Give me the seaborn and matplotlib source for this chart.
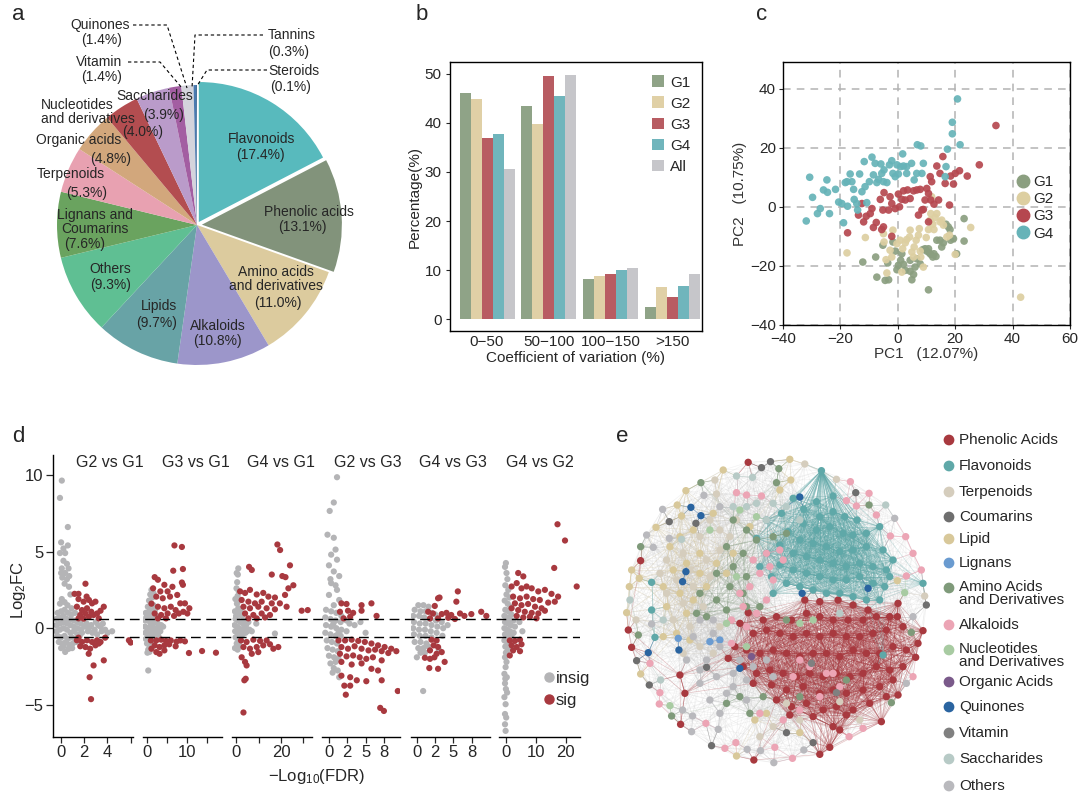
import numpy as np
import pandas as pd
import matplotlib
matplotlib.use('Agg')
import matplotlib.pyplot as plt
from matplotlib.collections import LineCollection
from matplotlib.lines import Line2D
from matplotlib.colors import to_rgba
import seaborn as sns

sns.set_style('white')
plt.rcParams['font.family'] = ['Liberation Sans', 'DejaVu Sans']
plt.rcParams['mathtext.default'] = 'regular'
plt.rcParams['axes.unicode_minus'] = True

# ---------------- DATA ----------------
# a: composition pie
pie_names = ['Flavonoids', 'Phenolic acids', 'Amino acids\nand derivatives', 'Alkaloids', 'Lipids',
             'Others', 'Lignans and\nCoumarins', 'Terpenoids', 'Organic acids',
             'Nucleotides\nand derivatives', 'Saccharides', 'Vitamin', 'Quinones', 'Tannins', 'Steroids']
pie_values = [17.4, 13.1, 11.0, 10.8, 9.7, 9.3, 7.6, 5.3, 4.8, 4.0, 3.9, 1.4, 1.4, 0.3, 0.1]
pie_colors = ['#58babd', '#82937b', '#dccb9e', '#9c96ca', '#68a3a6', '#5fbf93', '#6aa35f', '#e8a1b1',
              '#d2a77c', '#b34d50', '#ba9bca', '#a35ea2', '#d4d4dc', '#4a7ab0', '#2e5a8a']

# b: coefficient of variation
cv_bins = ['0\u221250', '50\u2212100', '100\u2212150', '>150']
cv_groups = ['G1', 'G2', 'G3', 'G4', 'All']
cv_G1 = [46.0, 43.4, 8.2, 2.5]
cv_G2 = [44.8, 39.8, 8.8, 6.6]
cv_G3 = [37.0, 49.5, 9.3, 4.5]
cv_G4 = [37.8, 45.5, 10.0, 6.8]
cv_All = [30.6, 49.8, 10.4, 9.2]
cv_colors = ['#8fa387', '#e0d0a6', '#b85c62', '#70b5bc', '#c6c6ca']

# c: PCA scores
pca_G1 = [(-12.2, -18.7), (-7.7, -17.0), (-7.3, -23.8), (-5.2, -13.0), (-4.4, -24.9), (-3.5, -19.0),
          (-3.2, -24.7), (-1.7, -11.9), (-0.9, -15.0), (-0.3, -21.3), (0.2, -19.8), (1.0, -18.1),
          (1.4, -15.9), (2.0, -19.5), (4.3, -21.8), (4.9, -24.7), (5.5, -22.9), (6.0, -20.4),
          (6.6, -17.6), (7.8, -19.3), (8.7, -14.5), (9.5, -14.2), (10.1, -15.0), (10.7, -28.1),
          (11.0, -15.6), (11.5, -16.1), (12.2, -17.0), (12.6, -15.9), (13.3, -16.8), (13.6, -11.3),
          (14.7, -11.3), (15.3, -13.6), (15.9, -12.2), (16.8, -5.9), (17.6, -6.8), (18.2, -7.7),
          (18.4, -11.3), (19.4, -10.8), (20.5, -15.9), (23.1, -4.0), (23.1, -11.6), (10.7, -14.2),
          (2.6, -21.5), (4.3, -18.1)]
pca_G2 = [(-17.7, -15.6), (-11.3, -10.4), (-5.0, -9.1), (-4.8, -11.9), (-2.7, -14.7), (-2.1, -17.0),
          (-1.7, -7.9), (0.8, -11.3), (1.7, -14.2), (1.4, -22.1), (2.6, -12.2), (3.1, -11.1),
          (4.1, -10.2), (4.3, -7.9), (4.9, -15.3), (5.7, -13.6), (6.4, -11.3), (7.2, -9.6),
          (7.5, -7.4), (7.8, -15.0), (8.0, -17.0), (8.9, -20.4), (9.9, -10.4), (10.7, -7.7),
          (11.3, -4.5), (11.5, -2.3), (12.2, -5.9), (12.6, -7.7), (13.0, -3.6), (13.6, -2.3),
          (14.7, -5.1), (15.3, -4.5), (15.9, -6.2), (17.1, -10.2), (18.0, -9.6), (20.0, -16.1),
          (25.4, -7.0), (42.8, -30.6), (-3.8, -22.4), (-4.1, -17.9), (11.8, 3.4), (5.5, -17.0),
          (-0.3, -12.5)]
pca_G3 = [(-17.5, -8.8), (-13.7, -2.8), (-11.9, -5.1), (-11.0, -3.2), (-9.6, -2.3), (-9.0, -0.6),
          (-8.5, -7.0), (-7.5, -5.3), (-6.1, 2.5), (-5.6, -7.7), (-5.2, -1.1), (-5.0, -6.8),
          (-4.8, 4.8), (-3.2, -1.1), (-2.1, -10.0), (-2.1, 1.1), (-0.9, -0.6), (0.2, 4.3),
          (0.6, 0.0), (1.4, 2.5), (2.0, 5.4), (2.6, 2.3), (3.4, 5.7), (4.3, 2.8), (5.5, 5.4),
          (6.6, 5.7), (7.8, 5.9), (8.4, -1.1), (8.9, -0.9), (9.5, 2.3), (10.1, 6.2), (10.7, 4.5),
          (11.3, 10.2), (11.5, 2.3), (11.8, 8.5), (12.6, 0.9), (13.6, 13.8), (14.2, 2.3),
          (14.7, 11.3), (15.7, 17.0), (16.5, 7.9), (18.0, 0.6), (18.4, 10.4), (19.4, 7.7),
          (20.0, 11.3), (21.5, 12.2), (24.2, 10.4), (28.4, 14.2), (34.2, 27.5), (10.7, -5.1),
          (7.2, -2.8), (-12.5, 1.1), (-2.7, 3.4)]
pca_G4 = [(-30.7, 10.0), (-29.7, 3.2), (-31.9, -4.8), (-28.0, -2.3), (-27.0, -0.6), (-24.7, 9.1),
          (-24.5, 4.9), (-21.7, 5.9), (-23.8, -2.3), (-20.6, 1.6), (-18.9, -5.4), (-18.3, 8.2),
          (-17.5, 0.2), (-16.6, 11.1), (-16.0, 8.5), (-15.4, 5.9), (-15.2, 2.5), (-14.3, 1.1),
          (-14.0, -1.1), (-13.3, 11.1), (-11.7, 15.3), (-11.4, 6.8), (-10.8, 1.4), (-9.9, 8.5),
          (-9.0, 16.8), (-8.5, 10.8), (-7.9, 14.7), (-7.3, 8.2), (-6.7, 9.3), (-5.9, 14.5),
          (-5.6, 11.3), (-5.0, 8.5), (-4.8, 12.5), (-3.8, 8.2), (-2.9, 14.2), (-2.1, 15.6),
          (-1.7, 11.3), (-0.3, 14.2), (0.2, 11.1), (1.0, 13.6), (1.7, 17.9), (2.0, 13.8),
          (3.1, 13.6), (4.8, 14.7), (5.7, 9.1), (6.8, 21.0), (8.0, 20.6), (8.4, 11.3), (8.9, 14.7),
          (16.5, 10.2), (16.8, 13.6), (17.3, 19.5), (19.0, 24.7), (19.0, 28.6), (20.8, 36.5),
          (21.7, 21.0), (6.6, 11.3), (-17.7, 8.5), (-19.5, 1.1), (-25.9, 5.7), (-12.5, 5.1),
          (-0.9, 10.2), (3.1, 11.3)]
pca_colors = ['#8b9f80', '#ddcfa1', '#b5474f', '#66b3b8']

# d: volcano panels (-log10 FDR, log2FC)
volc_titles = ['G2 vs G1', 'G3 vs G1', 'G4 vs G1', 'G2 vs G3', 'G4 vs G3', 'G4 vs G2']
insig_1 = [(0.06, 9.63), (-0.1, 8.5), (0.58, 6.6), (0.0, 5.6), (0.2, 5.2), (0.58, 5.4), (-0.1, 4.9),
           (0.35, 4.9), (0.2, 4.4), (0.5, 4.2), (0.64, 3.9), (0.06, 3.9), (0.0, 3.6), (0.35, 3.6),
           (0.7, 3.4), (0.1, 3.3), (0.5, 3.2), (0.3, 2.9), (0.68, 2.7), (0.8, 2.2), (0.06, 1.9),
           (-0.1, 1.6), (0.3, 1.7), (0.55, 1.5), (0.9, 1.3), (-0.3, 1.0), (0.0, 1.1), (0.3, 1.2),
           (0.6, 1.0), (0.9, 0.9), (1.2, 1.0), (-0.4, 0.6), (-0.1, 0.7), (0.2, 0.8), (0.5, 0.6),
           (0.8, 0.6), (1.1, 0.5), (1.4, 0.4), (1.7, 0.3), (-0.4, 0.2), (-0.1, 0.3), (0.2, 0.4),
           (0.5, 0.3), (0.8, 0.2), (1.1, 0.1), (1.4, 0.0), (1.7, -0.1), (2.0, 0.1), (2.3, -0.2),
           (2.6, 0.2), (2.9, -0.1), (3.2, 0.2), (3.5, -0.2), (-0.4, -0.2), (-0.1, -0.1), (0.2, 0.0),
           (0.5, -0.1), (0.8, -0.3), (1.1, -0.2), (1.4, -0.4), (1.8, -0.3), (2.2, 0.3), (2.7, -0.3),
           (3.0, 0.4), (3.4, 0.1), (3.8, -0.1), (4.0, -0.3), (4.4, -0.2), (-0.3, -0.5), (0.0, -0.6),
           (0.3, -0.5), (0.6, -0.7), (0.9, -0.6), (1.2, -0.7), (-0.2, -0.9), (0.1, -1.0), (0.4, -0.9),
           (0.7, -1.1), (1.0, -1.0), (0.0, -1.3), (0.35, -1.55), (0.64, -1.35), (0.95, -1.3),
           (0.2, -1.2), (1.3, -0.9), (1.6, -0.5), (2.4, 0.0), (3.1, -0.4), (3.6, 0.3)]
sig_1 = [(2.1, 2.9), (1.16, 2.24), (1.5, 2.24), (2.2, 2.06), (1.5, 1.9), (1.94, 1.73), (2.4, 1.84),
         (2.67, 1.62), (2.96, 1.73), (3.68, 1.4), (1.36, 1.4), (1.8, 1.18), (2.23, 1.3), (2.6, 1.07),
         (3.1, 0.96), (3.4, 1.14), (1.65, 0.86), (2.1, 0.96), (2.8, 0.86), (2.4, 0.75), (1.5, 0.64),
         (3.25, 0.64), (1.94, 0.62), (1.36, -0.79), (1.8, -0.9), (2.23, -0.79), (2.67, -0.9),
         (3.1, -0.79), (3.4, -0.9), (1.65, -1.18), (2.1, -1.23), (2.5, -1.34), (2.96, -1.12),
         (3.25, -1.0), (2.38, -1.67), (2.8, -2.43), (3.68, -2.1), (2.46, -3.2), (2.58, -4.63),
         (5.85, -0.79), (6.0, -0.94), (1.5, -0.62), (3.8, -0.62)]
insig_2 = [(0.3, -2.76), (1.1, 2.5), (1.6, 2.3), (0.8, 2.2), (1.3, 2.0), (0.5, 1.8), (1.0, 1.6),
           (1.6, 1.5), (0.2, 1.4), (0.7, 1.2), (1.3, 1.1), (2.0, 1.2), (-0.3, 1.0), (0.3, 0.9),
           (0.9, 0.8), (1.5, 0.7), (2.2, 0.8), (-0.4, 0.5), (0.2, 0.5), (0.8, 0.4), (1.4, 0.3),
           (2.0, 0.4), (2.7, 0.3), (3.5, 0.2), (-0.5, 0.1), (0.1, 0.0), (0.7, 0.1), (1.3, -0.1),
           (1.9, 0.0), (2.6, -0.1), (3.3, -0.2), (4.0, 0.1), (-0.4, -0.3), (0.2, -0.3), (0.8, -0.4),
           (1.4, -0.3), (2.1, -0.4), (2.8, -0.5), (-0.3, -0.7), (0.3, -0.7), (0.9, -0.8), (1.5, -0.6),
           (0.0, -1.0), (0.6, -1.1), (1.2, -1.0), (0.3, -1.4), (0.9, -1.3), (0.1, -1.6), (0.6, -1.55),
           (1.8, -0.2), (2.4, 0.5), (3.0, 0.0), (-0.2, 0.7), (0.5, -0.5), (1.1, 0.2)]
sig_2 = [(6.8, 5.4), (8.65, 5.3), (6.5, 3.75), (8.9, 3.86), (1.9, 3.33), (2.7, 3.16), (4.3, 2.83),
         (6.3, 2.7), (8.65, 2.98), (8.9, 2.83), (1.5, 2.6), (3.3, 2.4), (5.1, 2.4), (2.3, 2.06),
         (3.9, 1.95), (5.7, 2.06), (7.5, 2.17), (8.25, 1.62), (9.4, 1.62), (10.5, 1.3), (10.0, 0.96),
         (1.1, 1.6), (2.7, 1.4), (4.3, 1.3), (5.9, 1.4), (7.1, 1.18), (1.9, 0.96), (3.5, 0.86),
         (5.1, 0.96), (6.7, 0.8), (7.9, 0.96), (2.7, 0.64), (4.7, 0.64), (9.0, 1.07),
         (0.95, -0.8), (2.3, -0.8), (3.5, -0.75), (4.7, -0.83), (5.9, -0.8), (7.3, -0.88),
         (8.25, -0.8), (9.4, -0.86), (1.9, -1.12), (3.1, -1.23), (4.3, -1.12), (5.5, -1.05),
         (7.1, -1.18), (2.3, -1.56), (3.1, -1.67), (4.3, -1.45), (10.4, -1.62), (13.65, -1.49),
         (17.1, -1.6), (1.1, -1.34)]
insig_3 = [(1.0, 3.9), (0.3, 3.6), (0.8, 3.5), (0.5, 3.0), (0.2, 2.6), (1.2, 2.4), (0.7, 2.1),
           (-0.3, 1.9), (1.5, 1.8), (0.4, 1.6), (1.0, 1.3), (2.0, 1.2), (-0.5, 1.1), (0.6, 1.0),
           (1.6, 0.9), (2.6, 0.8), (-0.2, 0.6), (0.9, 0.5), (2.0, 0.4), (3.2, 0.3), (4.5, 0.2),
           (-0.6, 0.2), (0.4, 0.1), (1.4, 0.0), (2.5, -0.1), (3.8, 0.0), (5.0, -0.2), (-0.4, -0.2),
           (0.6, -0.3), (1.7, -0.3), (2.9, -0.4), (4.2, -0.3), (6.0, -0.1), (-0.2, -0.6), (0.9, -0.7),
           (2.0, -0.6), (0.3, -1.0), (1.3, -1.1), (-0.5, -1.3), (0.7, -1.4), (1.9, -1.2),
           (17.3, -0.35), (9.0, 0.3), (7.0, -0.2), (0.0, 0.8), (1.1, -0.9), (3.5, 0.5), (5.5, 0.4)]
sig_3 = [(18.4, 5.46), (19.6, 5.1), (24.0, 4.1), (5.8, 4.0), (7.0, 3.8), (15.9, 3.5), (20.6, 3.4),
         (22.0, 3.33), (25.5, 2.8), (23.3, 2.6), (1.8, 2.4), (4.0, 2.3), (6.2, 2.5), (9.2, 2.2),
         (12.1, 2.3), (14.4, 2.06), (17.3, 2.0), (21.8, 2.17), (2.5, 1.84), (5.5, 1.73), (8.4, 1.62),
         (11.4, 1.73), (15.9, 1.62), (19.5, 1.62), (3.3, 1.4), (6.2, 1.3), (9.9, 1.4), (13.6, 1.3),
         (17.3, 1.23), (22.5, 1.4), (29.2, 1.14), (31.9, 1.18), (4.0, 0.96), (7.7, 0.86),
         (11.4, 0.96), (15.1, 0.86), (5.5, 0.64), (9.2, 0.64), (12.9, 0.7),
         (2.2, -0.8), (4.7, -0.9), (7.7, -0.75), (10.7, -0.83), (13.6, -0.8), (3.3, -1.23),
         (6.2, -1.34), (9.2, -1.23), (12.1, -1.12), (15.1, -1.05), (18.8, -1.23), (16.6, -1.34),
         (2.5, -1.9), (4.0, -2.2), (4.7, -2.43), (4.3, -3.3), (3.7, -3.4), (3.3, -5.5), (7.0, -1.67),
         (9.9, -1.56)]
insig_4 = [(1.1, 9.85), (0.66, 8.2), (0.1, 7.65), (-0.2, 6.1), (0.66, 5.9), (0.9, 5.13), (0.3, 4.8),
           (1.1, 4.47), (0.0, 4.1), (0.66, 3.7), (1.4, 3.4), (0.3, 2.94), (1.1, 2.5), (0.0, 2.17),
           (1.4, 1.84), (0.66, 1.5), (0.2, 3.2), (0.9, 2.8), (-0.4, 1.2), (0.3, 1.1), (1.0, 1.0),
           (1.7, 0.8), (2.4, 0.5), (-0.5, 0.7), (0.2, 0.6), (0.9, 0.5), (1.6, 0.4), (2.8, 0.3),
           (3.5, 0.2), (-0.4, 0.2), (0.3, 0.1), (1.0, 0.0), (1.7, -0.1), (2.4, -0.2), (-0.5, -0.3),
           (0.2, -0.4), (0.9, -0.5), (1.6, -0.5), (-0.3, -0.8), (0.4, -0.9), (1.1, -1.0), (-0.2, -1.3),
           (0.5, -1.4), (1.2, -1.5), (0.0, -1.8), (0.7, -1.9), (1.3, -2.0), (0.2, -2.3), (0.9, -2.2),
           (0.66, -2.6), (1.2, -2.76), (1.4, -3.2), (0.5, -2.9), (4.3, 0.4), (5.0, -0.3), (0.6, 0.3),
           (1.3, -0.3)]
sig_4 = [(1.7, 1.62), (2.4, 1.58), (4.45, 1.5), (5.8, 1.62), (6.5, 0.8), (1.5, 1.07), (2.6, 1.14),
         (3.3, 1.0), (4.45, 1.14), (2.0, 0.64), (2.9, 0.75),
         (1.3, -0.8), (2.2, -0.8), (3.1, -0.75), (4.0, -0.83), (4.9, -0.9), (5.8, -1.0), (6.7, -1.12),
         (7.6, -1.23), (8.5, -1.34), (9.2, -1.5), (1.7, -1.23), (2.6, -1.34), (3.5, -1.18),
         (4.45, -1.34), (5.4, -1.45), (6.3, -1.4), (7.2, -1.5), (8.1, -1.62), (1.5, -1.67),
         (2.4, -1.84), (3.3, -1.78), (4.2, -1.9), (5.1, -2.0), (6.0, -1.9), (7.2, -2.1), (1.7, -2.2),
         (3.1, -2.37), (4.45, -2.3), (5.8, -2.65), (6.7, -2.76), (1.7, -3.1), (2.9, -3.2),
         (3.8, -3.4), (5.1, -3.46), (2.1, -3.75), (2.9, -3.75), (2.3, -4.34), (7.2, -3.4),
         (9.4, -4.1), (7.0, -5.2), (7.5, -5.4)]
insig_5 = [(0.86, -4.1), (0.0, -1.9), (0.5, -1.6), (0.2, 1.5), (0.9, 1.5), (1.6, 1.4), (-0.3, 1.2),
           (0.5, 1.1), (1.2, 1.1), (2.0, 1.0), (-0.5, 0.8), (0.3, 0.8), (1.0, 0.7), (1.8, 0.6),
           (2.6, 0.5), (3.4, 0.4), (-0.4, 0.4), (0.4, 0.3), (1.2, 0.3), (2.0, 0.2), (2.8, 0.1),
           (3.6, 0.0), (-0.5, 0.0), (0.3, -0.1), (1.1, -0.1), (1.9, -0.2), (2.7, -0.3), (3.5, -0.5),
           (-0.4, -0.4), (0.4, -0.5), (1.2, -0.5), (2.0, -0.6), (-0.3, -0.9), (0.5, -0.9), (1.3, -1.0),
           (0.2, -1.3), (0.9, -1.3), (1.6, -1.2), (1.1, -1.6), (3.0, -1.4), (2.5, 0.9), (4.2, 0.2)]
sig_5 = [(2.9, 1.95), (3.1, 2.0), (5.6, 2.4), (5.4, 1.73), (2.45, 1.45), (1.55, 1.07), (2.2, 0.96),
         (3.4, 0.92), (4.05, 1.0), (4.7, 0.86), (5.9, 0.96), (6.5, 0.8), (7.45, 0.92), (8.8, 1.07),
         (9.5, 0.8), (1.8, 0.64), (2.9, 0.64), (4.3, 0.68), (5.2, 0.6),
         (2.0, -0.75), (2.7, -0.8), (2.3, -1.12), (2.9, -1.23), (1.8, -1.45), (2.7, -1.67),
         (3.4, -1.56), (1.1, -1.93), (1.8, -2.0), (2.4, -1.9), (3.8, -2.2), (1.7, -2.6), (2.9, -2.65)]
insig_6 = [(0.0, 4.25), (-0.3, 4.0), (0.2, 3.6), (0.5, 3.2), (-0.2, 2.8), (0.8, 2.5), (0.2, 2.2),
           (1.2, 2.0), (-0.4, 1.8), (0.6, 1.6), (1.5, 1.4), (-0.2, 1.2), (0.8, 1.1), (1.8, 0.9),
           (-0.5, 0.8), (0.4, 0.7), (1.3, 0.6), (2.5, 0.5), (-0.3, 0.4), (0.6, 0.3), (1.6, 0.2),
           (3.0, 0.1), (-0.5, 0.0), (0.4, -0.1), (1.4, -0.2), (2.6, -0.3), (-0.3, -0.4), (0.7, -0.5),
           (1.8, -0.5), (-0.5, -0.8), (0.4, -0.9), (1.2, -1.0), (-0.2, -1.2), (0.7, -1.4), (0.0, -1.6),
           (-0.3, -1.9), (-0.1, -2.54), (-0.5, -2.98), (0.2, -2.2), (-0.3, -3.6), (0.0, -3.97),
           (-0.5, -4.5), (-0.1, -4.96), (-0.3, -5.6), (0.1, -5.83), (-0.3, -6.27), (-0.1, -6.7),
           (0.3, -3.2), (-0.2, -3.3), (0.4, -4.2), (4.5, 0.4), (5.5, -0.2)]
sig_6 = [(17.2, 6.78), (19.7, 5.72), (16.1, 3.93), (23.6, 2.72), (4.1, 3.6), (5.8, 3.38), (1.9, 2.72),
         (3.6, 2.94), (5.2, 2.6), (6.9, 2.72), (8.6, 2.6), (10.8, 2.4), (13.0, 2.5), (15.2, 2.24),
         (17.4, 2.06), (2.4, 2.06), (4.7, 1.95), (6.9, 2.06), (9.1, 1.9), (11.3, 1.84), (14.1, 1.67),
         (16.3, 1.73), (3.0, 1.62), (5.2, 1.5), (7.4, 1.58), (9.7, 1.4), (11.9, 1.3), (1.9, 1.3),
         (4.1, 1.18), (6.3, 1.07), (8.6, 1.0), (10.8, 0.96), (13.0, 1.14), (3.6, 0.8), (5.8, 0.7),
         (8.0, 0.75), (10.2, 0.64), (1.3, -0.8), (3.0, -0.83), (4.7, -0.75), (1.9, -1.12),
         (3.6, -1.23), (5.2, -1.05), (2.4, -1.45), (4.7, -1.5), (1.3, -1.78)]
volc_insig = [insig_1, insig_2, insig_3, insig_4, insig_5, insig_6]
volc_sig = [sig_1, sig_2, sig_3, sig_4, sig_5, sig_6]
volc_xlim = [(-0.7, 6.2), (-1.0, 18.6), (-1.8, 33.8), (-0.95, 9.7), (-0.8, 10.0), (-2.3, 24.7)]
volc_xticks = [[0, 2, 4, 6], [0, 5, 10, 15], [0, 10, 20, 30], [0, 2.5, 5, 7.5], [0, 2.5, 5, 7.5], [0, 10, 20]]
volc_xticklabels = [['0', '2', '4', ''], ['0', '', '10', ''], ['0', '', '20', ''],
                    ['0', '2', '5', '8'], ['0', '2', '5', '8'], ['0', '10', '20']]
fc_cut = 0.585
volc_gray, volc_red = '#b4b4b6', '#a8393f'

# e: correlation network (layout coordinates of nodes)
net_classes = ['Phenolic Acids', 'Flavonoids', 'Terpenoids', 'Coumarins', 'Lipid', 'Lignans',
               'Amino Acids\nand Derivatives', 'Alkaloids', 'Nucleotides\nand Derivatives',
               'Organic Acids', 'Quinones', 'Vitamin', 'Saccharides', 'Others']
net_colors = ['#a8393f', '#5fa8a8', '#d5cdbd', '#6e6e6e', '#d8c89a', '#6a9bd0', '#7f9a7a', '#eca5b5',
              '#a8cba2', '#7a5a8a', '#2a64a0', '#808080', '#b7cac6', '#b9b9bd']
nodes_phen = [(615, 540), (660, 545), (715, 540), (760, 555), (805, 570), (445, 578), (490, 600), (530, 590),
              (575, 600), (620, 580), (660, 590), (700, 600), (745, 600), (790, 600), (830, 590), (870, 590),
              (893, 590), (420, 610), (460, 640), (500, 630), (540, 640), (580, 650), (620, 640), (660, 650),
              (700, 640), (740, 650), (780, 650), (820, 640), (860, 630), (910, 620), (405, 680), (440, 690),
              (480, 700), (520, 690), (560, 700), (600, 710), (640, 700), (680, 700), (720, 710), (760, 690),
              (800, 700), (840, 700), (880, 680), (920, 690), (385, 715), (430, 740), (470, 760), (510, 750),
              (550, 760), (590, 770), (630, 760), (670, 770), (710, 760), (750, 770), (790, 760), (830, 740),
              (870, 750), (910, 740), (460, 790), (515, 795), (560, 810), (610, 800), (660, 820), (700, 810),
              (740, 820), (790, 810), (840, 800), (880, 780), (530, 840), (575, 860), (620, 850), (670, 870),
              (710, 860), (760, 870), (810, 850), (860, 830), (570, 885), (640, 890), (740, 885), (700, 920),
              (445, 127), (122, 422), (85, 630), (95, 682), (242, 913), (462, 1020), (660, 1003), (690, 982),
              (720, 930), (845, 905), (895, 825), (948, 712), (955, 670), (970, 632), (240, 765), (255, 820),
              (895, 550)]
nodes_flav = [(665, 152), (700, 228), (650, 245), (612, 268), (660, 290), (700, 275), (735, 290), (772, 300),
              (610, 310), (650, 330), (690, 320), (730, 340), (760, 345), (800, 340), (840, 320), (565, 335),
              (600, 360), (640, 370), (680, 380), (720, 395), (760, 390), (800, 380), (850, 390), (880, 420),
              (540, 375), (580, 400), (620, 410), (660, 420), (700, 430), (740, 440), (780, 430), (820, 440),
              (860, 450), (540, 435), (580, 450), (620, 460), (660, 470), (700, 480), (740, 480), (780, 470),
              (820, 490), (855, 500), (560, 490), (600, 500), (640, 510), (680, 520), (720, 520), (760, 530),
              (800, 540), (840, 540), (870, 470), (520, 520), (500, 400), (515, 470), (480, 440), (470, 355),
              (500, 300), (545, 280), (580, 235), (155, 487), (155, 570), (165, 652), (970, 490), (850, 705)]
nodes_terp = [(615, 132), (345, 180), (350, 222), (710, 178), (975, 528), (108, 600), (330, 300), (360, 330),
              (300, 350), (250, 400), (200, 420), (270, 450), (320, 420), (360, 390), (230, 480), (280, 500),
              (330, 470), (200, 520), (250, 550), (310, 560), (220, 600), (270, 620), (360, 620), (300, 680),
              (340, 700), (250, 700), (180, 460), (410, 300), (390, 350), (560, 850), (600, 900), (520, 920),
              (480, 950), (720, 845), (780, 900)]
nodes_coum = [(485, 143), (512, 125), (208, 305), (288, 310), (110, 722), (148, 795), (335, 977), (560, 938),
              (640, 968), (768, 218), (980, 555), (320, 742)]
nodes_lipid = [(570, 118), (370, 150), (573, 180), (258, 212), (540, 210), (232, 255), (245, 288), (168, 322),
               (95, 450), (118, 475), (88, 500), (80, 578), (122, 762), (410, 1008), (600, 938), (893, 482),
               (340, 280), (280, 330), (240, 350), (210, 380), (300, 400), (350, 430), (260, 430), (220, 450),
               (300, 460), (190, 500), (240, 520), (280, 540), (320, 500), (200, 560), (260, 580), (230, 640),
               (270, 660), (190, 650), (400, 400), (380, 460), (450, 320), (465, 900), (500, 880)]
nodes_lign = [(235, 655), (330, 665), (360, 660)]
nodes_amino = [(537, 146), (303, 188), (530, 188), (808, 255), (122, 380), (115, 645), (215, 888), (875, 848),
               (935, 637), (400, 300), (440, 330), (470, 360), (380, 380), (430, 400), (400, 440), (350, 460),
               (440, 470), (390, 500), (430, 520), (350, 540), (300, 520), (290, 580), (320, 590), (380, 570),
               (440, 560), (520, 350), (560, 340), (560, 600), (480, 560), (380, 850), (420, 830), (490, 830),
               (450, 880), (600, 830), (740, 780)]
nodes_alk = [(410, 218), (440, 225), (485, 228), (150, 730), (180, 818), (178, 852), (318, 910), (375, 985),
             (408, 968), (525, 982), (578, 1015), (748, 950), (790, 925), (940, 770), (965, 450), (920, 468),
             (940, 400), (918, 350), (872, 348), (830, 285), (808, 220), (770, 258), (752, 185), (740, 242),
             (420, 520), (450, 500), (480, 460), (510, 440), (550, 420), (520, 480), (460, 420), (500, 400),
             (540, 390), (430, 560), (470, 580), (395, 600), (395, 670), (600, 720), (680, 760), (630, 740),
             (720, 800), (660, 830), (600, 870), (550, 900), (480, 880), (580, 770), (700, 760), (500, 540),
             (440, 620)]
nodes_nuc = [(330, 330), (420, 270), (470, 290), (410, 470), (440, 680), (380, 610), (640, 600), (600, 610),
             (210, 857), (915, 518)]
nodes_org = [(455, 710)]
nodes_quin = [(600, 231), (273, 262), (303, 287), (258, 455), (248, 485), (145, 698), (237, 690), (420, 745),
              (805, 505), (607, 520)]
nodes_vit = [(635, 730), (710, 818)]
nodes_sacc = [(410, 168), (458, 172), (245, 358), (90, 540), (190, 600), (182, 780), (858, 255), (500, 300),
              (520, 250), (470, 250), (560, 260), (600, 300), (400, 260), (440, 260), (720, 580)]
nodes_oth = [(312, 226), (188, 268), (140, 345), (160, 382), (208, 355), (155, 612), (248, 870), (278, 888),
             (275, 935), (355, 928), (442, 988), (482, 992), (522, 1028), (612, 990), (920, 790), (940, 590),
             (885, 295), (300, 600), (340, 640), (360, 680), (320, 720), (300, 750), (350, 770), (400, 760),
             (420, 720), (440, 780), (460, 740), (400, 800), (500, 720), (520, 770), (380, 820), (330, 840),
             (360, 880), (440, 840), (300, 790), (260, 720), (280, 650), (340, 600), (360, 260)]
net_nodes = [nodes_phen, nodes_flav, nodes_terp, nodes_coum, nodes_lipid, nodes_lign, nodes_amino,
             nodes_alk, nodes_nuc, nodes_org, nodes_quin, nodes_vit, nodes_sacc, nodes_oth]

# ---------------- FIGURE ----------------
W, H = 1080, 797
fig = plt.figure(figsize=(W / 100, H / 100), dpi=100)


def fa(x0, y0, x1, y1):
    return [x0 / W, 1 - y1 / H, (x1 - x0) / W, (y1 - y0) / H]


ov = fig.add_axes([0, 0, 1, 1], zorder=10)
ov.set_xlim(0, W)
ov.set_ylim(H, 0)
ov.axis('off')
ov.patch.set_alpha(0)

for lab, (x, y) in zip('abcde', [(18, 14), (422, 14), (762, 14), (18, 436), (622, 436)]):
    ov.text(x, y, lab, fontsize=16, ha='center', va='center')

# ---- a: pie ----
axa = fig.add_axes(fa(37, 65, 357, 385))
explode = [0.025, 0.035] + [0] * (len(pie_values) - 2)
axa.pie(pie_values, colors=pie_colors, startangle=90, counterclock=False, explode=explode,
        radius=1.0, wedgeprops=dict(linewidth=0))
axa.set_xlim(-1.143, 1.143)
axa.set_ylim(-1.143, 1.143)
axa.set_aspect('equal')

name_xy = [(262, 139), (309, 212), (276, 279), (218, 326), (159, 306), (110, 269), (95, 222), (71, 174),
           (79, 140), (41, 112), (155, 96), (99, 62), (100, 25), (292, 35), (294, 71)]
pct_xy = [(260, 155), (302, 227), (278, 303), (217, 341), (157, 323), (111, 285), (85, 244), (87, 193),
          (111, 159), (143, 132), (164, 115), (102, 77), (102, 40), (289, 52), (291, 87)]
for i, (nm, v) in enumerate(zip(pie_names, pie_values)):
    ha = 'left' if i == 9 else 'center'
    ov.text(name_xy[i][0], name_xy[i][1], nm, fontsize=10, ha=ha, va='center', linespacing=0.95,
            multialignment='left' if i == 9 else 'center')
    ov.text(pct_xy[i][0], pct_xy[i][1], f'({v:.1f}%)', fontsize=10, ha='center', va='center')
leaders = [[(133, 25), (167, 25), (187, 88)], [(128, 62), (160, 62), (182, 88)],
           [(263, 35), (195, 35), (192, 88)], [(267, 70), (207, 70), (197, 86)]]
for pts in leaders:
    xs, ys = zip(*pts)
    ov.plot(xs, ys, color='black', lw=0.8, ls=(0, (3, 2.5)))

# ---- b: bar chart ----
axb = fig.add_axes(fa(450, 62, 702, 331))
cv_table = {'G1': cv_G1, 'G2': cv_G2, 'G3': cv_G3, 'G4': cv_G4, 'All': cv_All}
dfb = pd.DataFrame([(b, g, cv_table[g][i]) for g in cv_groups for i, b in enumerate(cv_bins)],
                   columns=['CV', 'Group', 'Percentage'])
sns.barplot(data=dfb, x='CV', y='Percentage', hue='Group', order=cv_bins, hue_order=cv_groups,
            palette=cv_colors, saturation=1, width=0.89, errorbar=None, ax=axb, linewidth=0)
axb.set_xlim(-0.6, 3.48)
axb.set_ylim(-2.4, 52.4)
axb.set_yticks([0, 10, 20, 30, 40, 50])
axb.set_xlabel('Coefficient of variation (%)', fontsize=11, labelpad=1)
axb.set_ylabel('Percentage(%)', fontsize=11, labelpad=2)
axb.tick_params(axis='both', labelsize=11, length=0, pad=3)
axb.tick_params(axis='y', length=3, width=0.8, direction='out', left=True)
for sp in axb.spines.values():
    sp.set_color('black')
    sp.set_linewidth(1.0)
h, l = axb.get_legend_handles_labels()
axb.legend(h, l, loc='upper left', bbox_to_anchor=(0.8, 0.95), frameon=False, fontsize=11,
           handlelength=0.8, handleheight=0.8, handletextpad=0.4, labelspacing=0.45, borderaxespad=0,
           borderpad=0)

# ---- c: PCA ----
axc = fig.add_axes(fa(783, 62, 1070, 325))
pca_rows = []
for g, pts in zip(['G1', 'G2', 'G3', 'G4'], [pca_G1, pca_G2, pca_G3, pca_G4]):
    for x, y in pts:
        pca_rows.append((x, y, g))
dfc = pd.DataFrame(pca_rows, columns=['PC1', 'PC2', 'Group'])
axc.set_axisbelow(True)
axc.grid(True, ls=(0, (5, 4)), color='#b3b3b3', lw=1.1)
sns.scatterplot(data=dfc, x='PC1', y='PC2', hue='Group', hue_order=['G1', 'G2', 'G3', 'G4'],
                palette=pca_colors, s=30, linewidth=0, alpha=0.92, legend=False, ax=axc)
axc.set_xlim(-40, 60)
axc.set_ylim(-40, 49)
axc.set_xticks([-40, -20, 0, 20, 40, 60])
axc.set_yticks([-40, -20, 0, 20, 40])
axc.set_xlabel('PC1   (12.07%)', fontsize=11, color='#333333', labelpad=1)
axc.set_ylabel('PC2   (10.75%)', fontsize=11, color='#333333', labelpad=2)
axc.tick_params(labelsize=11, length=3, width=0.8, direction='out', left=True, bottom=True, pad=2)
for sp in axc.spines.values():
    sp.set_color('black')
    sp.set_linewidth(1.0)
hc = [Line2D([], [], marker='o', ls='', color=c, ms=9, label=g)
      for g, c in zip(['G1', 'G2', 'G3', 'G4'], pca_colors)]
axc.legend(handles=hc, loc='center left', bbox_to_anchor=(0.815, 0.445), frameon=False, fontsize=11,
           handlelength=0.8, handletextpad=0.25, labelspacing=0.2, borderaxespad=0, borderpad=0)

# ---- d: volcano facets ----
d_x = [(53, 133), (143, 222), (232, 312), (322, 400), (411, 490), (499, 580)]
d_ylim = (-7.1, 11.3)
title_x = [110, 196, 281, 368, 453, 540]
for k in range(6):
    ax = fig.add_axes(fa(d_x[k][0], 455, d_x[k][1], 737))
    rows = [(x, y, 'insig') for x, y in volc_insig[k]] + [(x, y, 'sig') for x, y in volc_sig[k]]
    dfd = pd.DataFrame(rows, columns=['nlogFDR', 'log2FC', 'Type'])
    sns.scatterplot(data=dfd, x='nlogFDR', y='log2FC', hue='Type', palette={'insig': volc_gray, 'sig': volc_red},
                    s=20, linewidth=0, legend=False, ax=ax)
    ax.set_xlim(*volc_xlim[k])
    ax.set_ylim(*d_ylim)
    ax.set_xticks(volc_xticks[k])
    ax.set_xticklabels(volc_xticklabels[k])
    ax.set_xlabel('')
    ax.set_ylabel('')
    ax.patch.set_alpha(0)
    for s in ['top', 'right']:
        ax.spines[s].set_visible(False)
    ax.spines['bottom'].set_color('black')
    ax.spines['bottom'].set_linewidth(1.0)
    ax.tick_params(axis='x', labelsize=12, length=4, width=0.9, direction='out', bottom=True, pad=2)
    if k == 0:
        ax.spines['left'].set_color('black')
        ax.spines['left'].set_linewidth(1.0)
        ax.set_yticks([-5, 0, 5, 10])
        ax.tick_params(axis='y', labelsize=12, length=5, width=0.9, direction='out', left=True, pad=2)
    else:
        ax.spines['left'].set_visible(False)
        ax.set_yticks([])
    ov.text(title_x[k], 462, volc_titles[k], fontsize=11.5, ha='center', va='center')
    if k == 5:
        hd = [Line2D([], [], marker='o', ls='', color=volc_gray, ms=6.5, label='insig'),
              Line2D([], [], marker='o', ls='', color=volc_red, ms=6.5, label='sig')]
        ax.legend(handles=hd, loc='upper left', bbox_to_anchor=(545 / W, 1 - 671 / H),
                  bbox_transform=fig.transFigure, frameon=False, fontsize=12, handlelength=0.5,
                  handletextpad=0.15, labelspacing=0.4, borderpad=0, borderaxespad=0)
axl = fig.add_axes(fa(53, 455, 580, 737), zorder=5)
axl.set_ylim(*d_ylim)
axl.set_xlim(0, 1)
axl.axis('off')
axl.patch.set_alpha(0)
for yv in (fc_cut, -fc_cut):
    axl.axhline(yv, color='black', lw=1.0, ls=(0, (7, 4)))
ov.text(317, 777, r'$\mathregular{-Log_{10}(FDR)}$', fontsize=12, ha='center', va='center')
ov.text(18, 590, r'$\mathregular{Log_{2}FC}$', fontsize=12, ha='center', va='center', rotation=90)

# ---- e: network ----
axe = fig.add_axes(fa(600, 420, 933, 797))
pos, cat = [], []
for ci, pts in enumerate(net_nodes):
    for p in pts:
        pos.append(p)
        cat.append(ci)
P = np.array(pos, float)
C = np.array(cat)
D = np.sqrt(((P[:, None, :] - P[None, :, :]) ** 2).sum(-1))
iu, ju = np.triu_indices(len(P), 1)
segs, cols = [], []
near = D[iu, ju] < 140
for i, j in zip(iu[near], ju[near]):
    segs.append([P[i], P[j]])
    cols.append(to_rgba('#c4c4c4', 0.22))
for ci, rad, alp in [(2, 170, 0.3), (4, 170, 0.3), (6, 200, 0.25), (0, 215, 0.32), (1, 220, 0.32)]:
    m = (C[iu] == ci) & (C[ju] == ci) & (D[iu, ju] < rad)
    for i, j in zip(iu[m], ju[m]):
        segs.append([P[i], P[j]])
        cols.append(to_rgba(net_colors[ci], alp))
flav_idx = np.where(C == 1)[0]
hub_i = flav_idx[0]
for j in flav_idx[1:]:
    if D[hub_i, j] < 420:
        segs.append([P[hub_i], P[j]])
        cols.append(to_rgba(net_colors[1], 0.45))
order = np.argsort(D, axis=1)
for i in range(len(P)):
    for j in order[i, 1:4]:
        segs.append([P[i], P[j]])
        cols.append(to_rgba(net_colors[C[i]], 0.5))
axe.add_collection(LineCollection(segs, colors=cols, linewidths=0.45, zorder=1))
dfe = pd.DataFrame({'x': P[:, 0], 'y': P[:, 1], 'cls': [net_classes[c] for c in C]})
sns.scatterplot(data=dfe, x='x', y='y', hue='cls', hue_order=net_classes, palette=net_colors, s=28,
                linewidth=0, legend=False, ax=axe, zorder=3)
axe.set_xlim(0, 1000)
axe.set_ylim(1131, 0)
axe.axis('off')

leg_y = [440, 466, 492, 517, 539, 563, 588, 625, 650, 682, 707, 733, 759, 786]
ov.scatter([949] * len(leg_y), leg_y, s=60, c=net_colors, linewidths=0)
for nm, y in zip(net_classes, leg_y):
    if '\n' in nm:
        ov.text(959, y - 8, nm, fontsize=11, ha='left', va='top', linespacing=0.95)
    else:
        ov.text(959, y, nm, fontsize=11, ha='left', va='center')

fig.savefig('out.png', dpi=100)
